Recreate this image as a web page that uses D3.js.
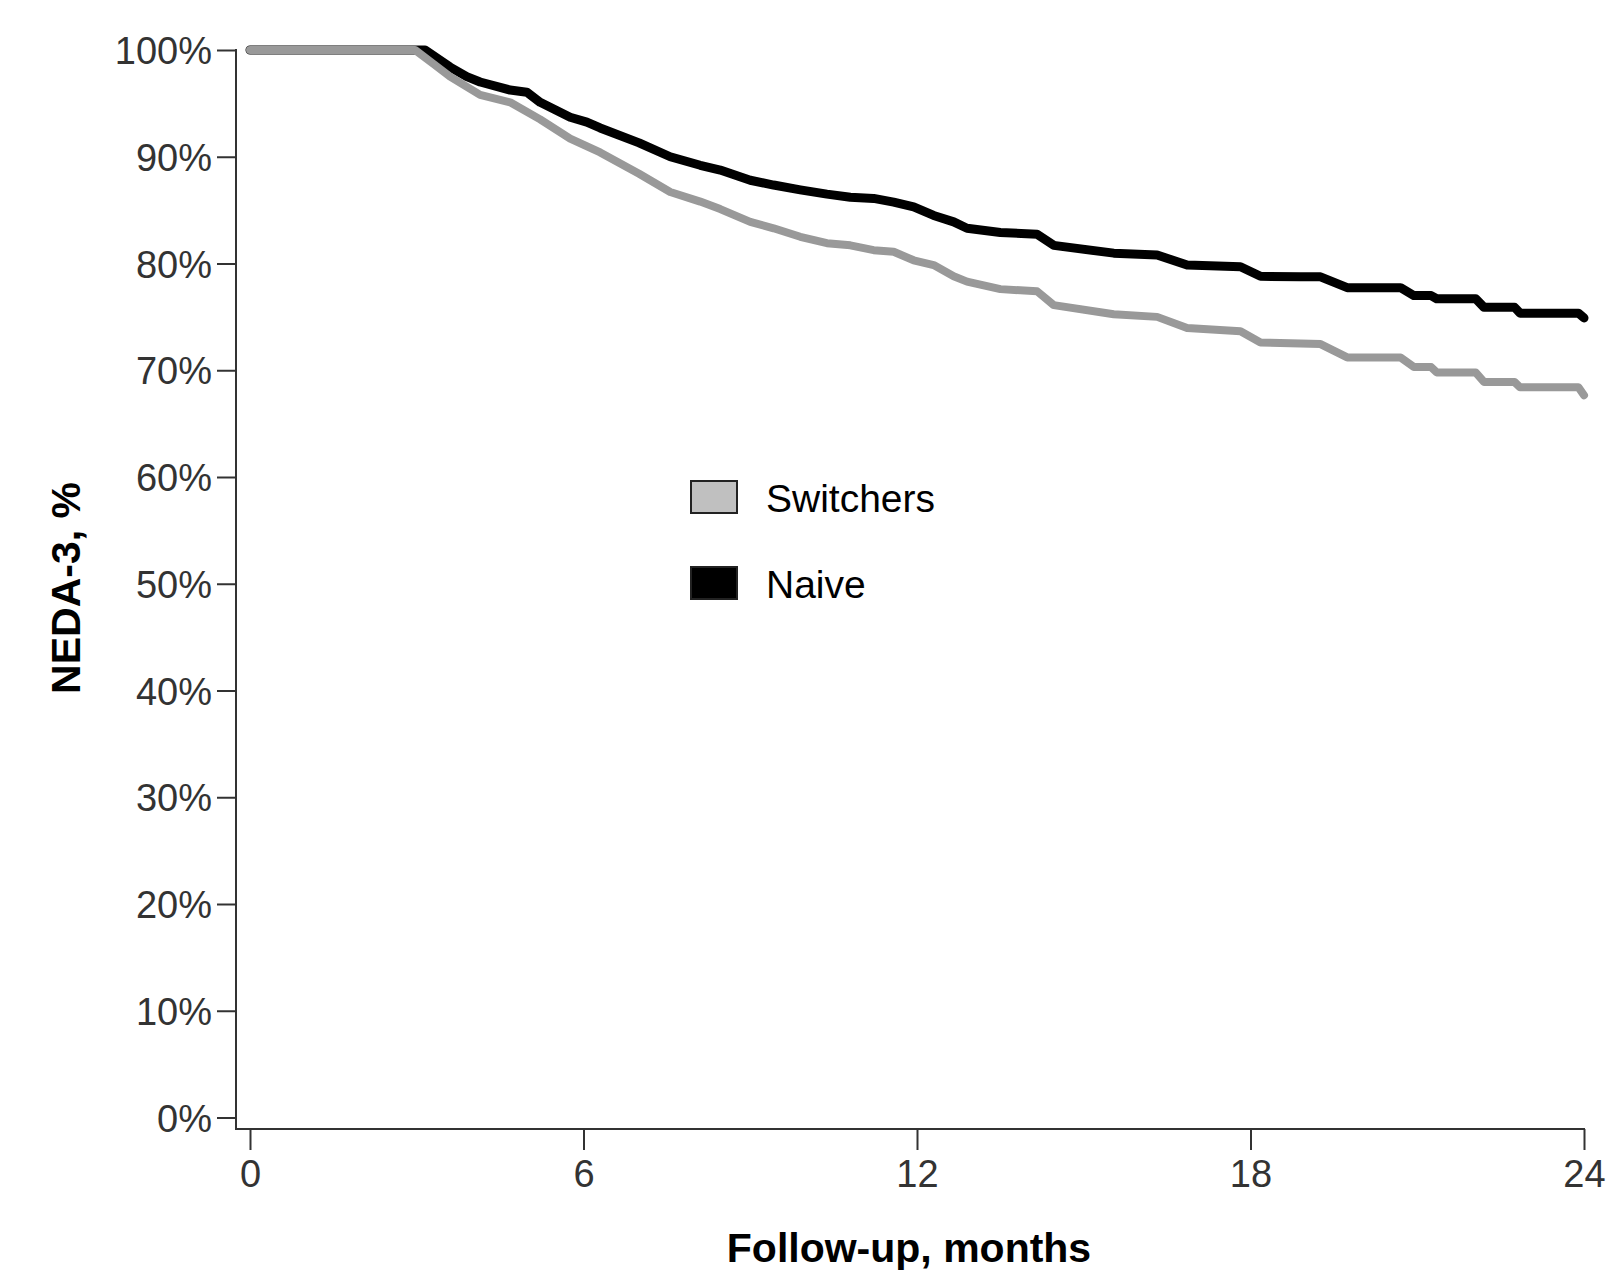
<!DOCTYPE html>
<html>
<head>
<meta charset="utf-8">
<script src="https://cdn.jsdelivr.net/npm/d3@7"></script>
<style>
  html, body { margin: 0; padding: 0; background: #fff; }
  svg { display: block; }
</style>
</head>
<body>
<div id="chart"></div>
<script>
// ---- Data ----
const seriesNames = ["Switchers", "Naive"];
const xTicks = [0, 6, 12, 18, 24];
const yTicks = [0, 10, 20, 30, 40, 50, 60, 70, 80, 90, 100];

// Naive (black) : months, NEDA-3 %
const naiveTime = [0, 3.0, 3.15, 3.6, 3.9, 4.14, 4.68, 4.98, 5.22, 5.76, 6.06, 6.3, 7.0, 7.56, 8.1, 8.46, 9.0, 9.42, 9.9, 10.38, 10.8, 11.22, 11.58, 11.94, 12.3, 12.66, 12.9, 13.5, 14.16, 14.46, 15.54, 16.32, 16.86, 17.82, 18.18, 18.9, 19.26, 19.74, 20.7, 20.94, 21.25, 21.35, 22.05, 22.2, 22.75, 22.85, 23.9, 24.0];
const naiveValue = [100, 100, 100, 98.4, 97.5, 97.0, 96.25, 96.05, 95.1, 93.7, 93.25, 92.7, 91.3, 90.0, 89.2, 88.75, 87.8, 87.35, 86.9, 86.5, 86.2, 86.1, 85.75, 85.3, 84.5, 83.9, 83.3, 82.9, 82.75, 81.7, 80.97, 80.8, 79.85, 79.7, 78.8, 78.75, 78.75, 77.74, 77.74, 77.0, 77.0, 76.7, 76.7, 75.9, 75.9, 75.35, 75.35, 74.9];

// Switchers (grey)
const switchTime = [0, 2.97, 3.3, 3.6, 4.14, 4.68, 5.22, 5.76, 6.3, 7.0, 7.56, 8.1, 8.46, 9.0, 9.42, 9.9, 10.38, 10.8, 11.22, 11.58, 11.94, 12.3, 12.66, 12.9, 13.5, 14.16, 14.46, 15.54, 16.32, 16.86, 17.82, 18.18, 18.9, 19.26, 19.74, 20.7, 20.94, 21.25, 21.35, 22.05, 22.2, 22.75, 22.85, 23.9, 24.0];
const switchValue = [100, 100, 98.7, 97.5, 95.8, 95.1, 93.5, 91.7, 90.4, 88.4, 86.7, 85.8, 85.1, 83.9, 83.3, 82.5, 81.9, 81.7, 81.25, 81.1, 80.3, 79.85, 78.8, 78.3, 77.6, 77.4, 76.1, 75.25, 75.0, 73.95, 73.65, 72.6, 72.5, 72.45, 71.2, 71.2, 70.3, 70.3, 69.8, 69.8, 68.9, 68.9, 68.4, 68.4, 67.65];

const seriesColors = ["#999999", "#000000"];
const legendFills = ["#c0c0c0", "#000000"];

// ---- Layout ----
const W = 1609, H = 1272;
const svg = d3.select("#chart").append("svg").attr("width", W).attr("height", H);

const x = d3.scaleLinear().domain([0, 24]).range([250, 1584]);
const y = d3.scaleLinear().domain([0, 100]).range([1117.5, 50]);

const axisColor = "#333";
const tickFont = "'Liberation Sans', Arial, sans-serif";

// Y axis line
svg.append("line")
  .attr("x1", 236).attr("x2", 236).attr("y1", y(100) - 1).attr("y2", 1129)
  .attr("stroke", axisColor).attr("stroke-width", 2);
// X axis line
svg.append("line")
  .attr("x1", 235).attr("x2", x(24) + 1).attr("y1", 1129).attr("y2", 1129)
  .attr("stroke", axisColor).attr("stroke-width", 2);

// Y ticks
const yAxis = d3.axisLeft(y).tickValues(yTicks).tickSize(19).tickPadding(5)
  .tickFormat(d => d + "%");
const gy = svg.append("g").attr("transform", "translate(236,0)").call(yAxis);
gy.select(".domain").remove();
gy.selectAll(".tick line").attr("stroke", axisColor).attr("stroke-width", 2);
gy.selectAll(".tick text")
  .attr("font-family", tickFont).attr("font-size", 38).attr("fill", "#333")
  .attr("dy", "0.36em");

// X ticks
const xAxis = d3.axisBottom(x).tickValues(xTicks).tickSize(21).tickPadding(10)
  .tickFormat(d3.format("d"));
const gx = svg.append("g").attr("transform", "translate(0,1129)").call(xAxis);
gx.select(".domain").remove();
gx.selectAll(".tick line").attr("stroke", axisColor).attr("stroke-width", 2);
gx.selectAll(".tick text")
  .attr("font-family", tickFont).attr("font-size", 38).attr("fill", "#333")
  .attr("dy", "0.71em");

// Axis titles
svg.append("text")
  .attr("transform", "translate(80,588) rotate(-90)")
  .attr("text-anchor", "middle")
  .attr("font-family", tickFont).attr("font-weight", "bold").attr("font-size", 41)
  .attr("fill", "#000")
  .text("NEDA-3, %");

svg.append("text")
  .attr("x", 909).attr("y", 1262)
  .attr("text-anchor", "middle")
  .attr("font-family", tickFont).attr("font-weight", "bold").attr("font-size", 41)
  .attr("fill", "#000")
  .text("Follow-up, months");

// Curves
const line = d3.line().x(d => x(d[0])).y(d => y(d[1])).curve(d3.curveLinear);
const naive = naiveTime.map((t, i) => [t, naiveValue[i]]);
const switchers = switchTime.map((t, i) => [t, switchValue[i]]);

svg.append("path").datum(naive)
  .attr("d", line).attr("fill", "none")
  .attr("stroke", seriesColors[1]).attr("stroke-width", 9)
  .attr("stroke-linejoin", "round").attr("stroke-linecap", "round");
svg.append("path").datum(switchers)
  .attr("d", line).attr("fill", "none")
  .attr("stroke", seriesColors[0]).attr("stroke-width", 8)
  .attr("stroke-linejoin", "round").attr("stroke-linecap", "round");

// Legend
const legend = svg.append("g");
const legendY = [481, 567];
seriesNames.forEach((name, i) => {
  legend.append("rect")
    .attr("x", 691).attr("y", legendY[i])
    .attr("width", 46).attr("height", 32)
    .attr("fill", legendFills[i]).attr("stroke", "#222").attr("stroke-width", 2);
  legend.append("text")
    .attr("x", 766).attr("y", legendY[i] + 31)
    .attr("font-family", tickFont).attr("font-size", 39).attr("fill", "#000")
    .text(name);
});
</script>
</body>
</html>
